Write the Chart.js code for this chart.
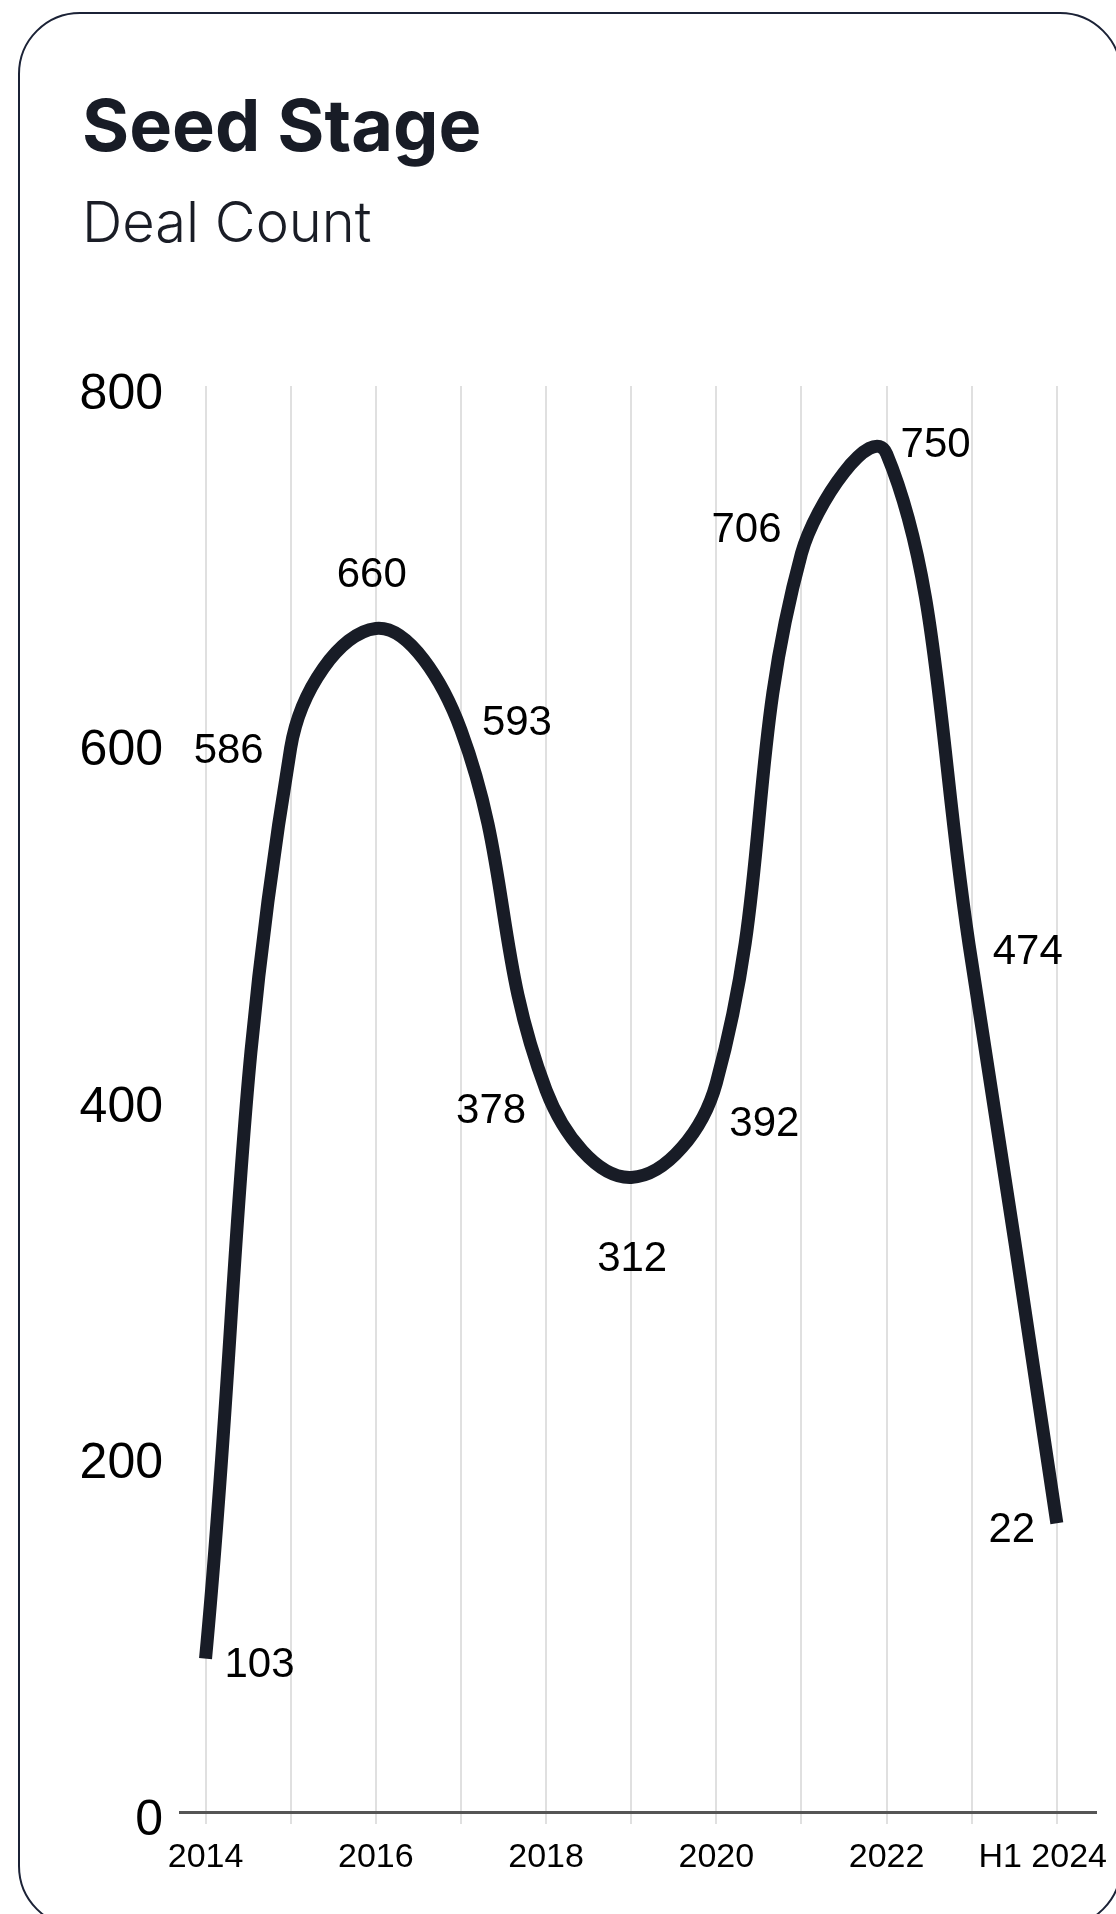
<!DOCTYPE html>
<html>
<head>
<meta charset="utf-8">
<script src="https://cdn.jsdelivr.net/npm/chart.js@4.4.1/dist/chart.umd.min.js"></script>
<style>
  html, body { margin: 0; padding: 0; background: #ffffff; width: 1116px; height: 1914px; overflow: hidden; }
  #card { position: absolute; left: 18px; top: 12px; width: 1104px; height: 1916px; box-sizing: border-box;
          border: 2px solid #1b2236; border-radius: 62px; background: #ffffff; }
  #title { position: absolute; left: 82px; top: 89px; font: 700 72px/1 Inter, "Noto Sans", sans-serif; color: #181c26; white-space: nowrap; }
  #subtitle { position: absolute; left: 82px; top: 194px; font: 300 56px/1 Inter, "Noto Sans", sans-serif; color: #1a1d26; white-space: nowrap; }
  #chart { position: absolute; left: 0; top: 0; }
</style>
</head>
<body>
<div id="card"></div>
<div id="title">Seed Stage</div>
<div id="subtitle">Deal Count</div>
<canvas id="chart" width="1116" height="1914"></canvas>
<script>
// ---- Data ----
const categories = ['2014', '2015', '2016', '2017', '2018', '2019', '2020', '2021', '2022', '2023', 'H1 2024'];
const tickLabels = ['2014', '', '2016', '', '2018', '', '2020', '', '2022', '', 'H1 2024'];
// height of the drawn curve at each category (as plotted in the picture)
const curveValues = [86, 597, 664, 607, 405, 356, 409, 706, 762, 477, 162];
// numbers printed next to the curve
const dealCountLabels = ['103', '586', '660', '593', '378', '312', '392', '706', '750', '474', '22'];
const yTickValues = [0, 200, 400, 600, 800];

// label placement relative to each point (style, not data)
const labelOffsets = [[54, 7], [-62, 4], [-4, -53], [56, -7], [-55, 21], [1, 82], [48, 41], [-55, -23], [49, -8], [56, -9], [-45, 7]];

const FONT = '"Liberation Sans", Arial, sans-serif';

const valueLabelPlugin = {
  id: 'valueLabels',
  afterDatasetsDraw(chart) {
    const ctx = chart.ctx;
    const meta = chart.getDatasetMeta(0);
    ctx.save();
    ctx.font = '42px ' + FONT;
    ctx.fillStyle = '#000000';
    ctx.textAlign = 'center';
    ctx.textBaseline = 'middle';
    meta.data.forEach((pt, i) => {
      const [dx, dy] = labelOffsets[i];
      ctx.fillText(dealCountLabels[i], pt.x + dx, pt.y + dy);
    });
    ctx.restore();
  }
};

new Chart(document.getElementById('chart'), {
  type: 'line',
  data: {
    datasets: [{
      label: 'Deal Count',
      data: curveValues.map((v, i) => ({ x: i, y: v })),
      borderColor: '#181c26',
      borderWidth: 13,
      borderCapStyle: 'butt',
      borderJoinStyle: 'round',
      tension: 0.4,
      pointRadius: 0,
      fill: false
    }]
  },
  options: {
    responsive: false,
    animation: false,
    devicePixelRatio: 1,
    layout: { padding: { left: 0, right: 20, top: 386, bottom: 0 } },
    plugins: { legend: { display: false }, tooltip: { enabled: false } },
    scales: {
      x: {
        type: 'linear',
        min: -0.3,
        max: 10.46,
        afterBuildTicks: (s) => { s.ticks = categories.map((c, i) => ({ value: i })); },
        afterFit: (s) => { s.height = 102; s.paddingLeft = 0; s.paddingRight = 0; },
        ticks: {
          autoSkip: false, maxRotation: 0, minRotation: 0, padding: 13,
          color: '#000000', font: { family: FONT, size: 34 },
          // last label is kept inside the card by trailing spaces
          callback: (v) => {
            const t = tickLabels[v];
            if (t === undefined) return '';
            return v === tickLabels.length - 1 ? t + '   ' : t;
          }
        },
        grid: { color: '#e0e0e0', lineWidth: 2, drawTicks: true, tickLength: 12 },
        border: { display: true, color: '#555555', width: 3 }
      },
      y: {
        min: 0,
        max: 800,
        afterBuildTicks: (s) => { s.ticks = yTickValues.map(v => ({ value: v })); },
        afterFit: (s) => { s.width = 180; },
        ticks: { padding: 17, labelOffset: 9, color: '#000000', font: { family: FONT, size: 50 } },
        grid: { display: false, drawTicks: false },
        border: { display: false }
      }
    }
  },
  plugins: [valueLabelPlugin]
});
</script>
</body>
</html>
